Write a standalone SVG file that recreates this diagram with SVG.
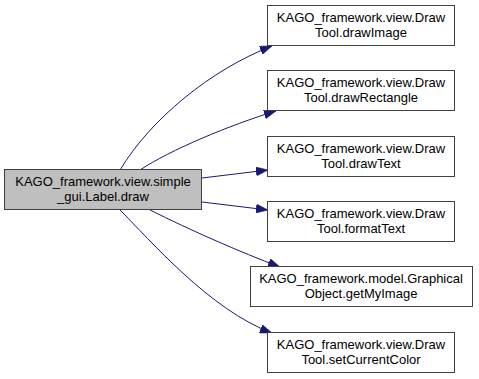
<svg xmlns="http://www.w3.org/2000/svg" width="479" height="379" viewBox="0 0 479 379">
  <style>
    .node rect { fill: #ffffff; stroke: #404040; stroke-width: 1; }
    .node.current rect { fill: #bfbfbf; }
    .node text { font-family: "Liberation Sans", Arial, sans-serif; font-size: 13px; fill: #000000; text-anchor: middle; }
    .edge { fill: none; stroke: #191970; stroke-width: 1; marker-end: url(#arrow); }
  </style>
  <defs>
    <marker id="arrow" viewBox="0 0 12 9" refX="12" refY="4.5" markerWidth="12" markerHeight="9" markerUnits="userSpaceOnUse" orient="auto">
      <path d="M0,0 L12,4.5 L0,9 z" fill="#191970" stroke="#191970" stroke-width="0.5"/>
    </marker>
  </defs>
  <rect width="479" height="379" fill="#ffffff"/>

  <g id="connectors">
    <path class="edge" d="M120,170 C150,120 210,70 272,46"/>
    <path class="edge" d="M140,170 C170,150 230,125 276,111"/>
    <path class="edge" d="M202,178 L268,170"/>
    <path class="edge" d="M202,202 L268,210"/>
    <path class="edge" d="M150,210 C190,230 240,252 280,267"/>
    <path class="edge" d="M120,210 C150,240 210,310 272,333"/>
  </g>

  <g id="label_draw" class="node current">
    <rect x="4.5" y="169.5" width="197" height="40"/>
    <text x="103" y="186">KAGO_framework.view.simple</text>
    <text x="103" y="201">_gui.Label.draw</text>
  </g>

  <g id="drawtool_drawimage" class="node">
    <rect x="267.5" y="5.5" width="187" height="40"/>
    <text x="361" y="22">KAGO_framework.view.Draw</text>
    <text x="361" y="37">Tool.drawImage</text>
  </g>

  <g id="drawtool_drawrectangle" class="node">
    <rect x="267.5" y="70.5" width="187" height="40"/>
    <text x="361" y="87">KAGO_framework.view.Draw</text>
    <text x="361" y="102">Tool.drawRectangle</text>
  </g>

  <g id="drawtool_drawtext" class="node">
    <rect x="267.5" y="136.5" width="187" height="40"/>
    <text x="361" y="153">KAGO_framework.view.Draw</text>
    <text x="361" y="168">Tool.drawText</text>
  </g>

  <g id="drawtool_formattext" class="node">
    <rect x="267.5" y="201.5" width="187" height="40"/>
    <text x="361" y="218">KAGO_framework.view.Draw</text>
    <text x="361" y="233">Tool.formatText</text>
  </g>

  <g id="graphicalobject_getmyimage" class="node">
    <rect x="250.5" y="266.5" width="222" height="40"/>
    <text x="361" y="283">KAGO_framework.model.Graphical</text>
    <text x="361" y="298">Object.getMyImage</text>
  </g>

  <g id="drawtool_setcurrentcolor" class="node">
    <rect x="267.5" y="332.5" width="187" height="40"/>
    <text x="361" y="349">KAGO_framework.view.Draw</text>
    <text x="361" y="364">Tool.setCurrentColor</text>
  </g>
</svg>
